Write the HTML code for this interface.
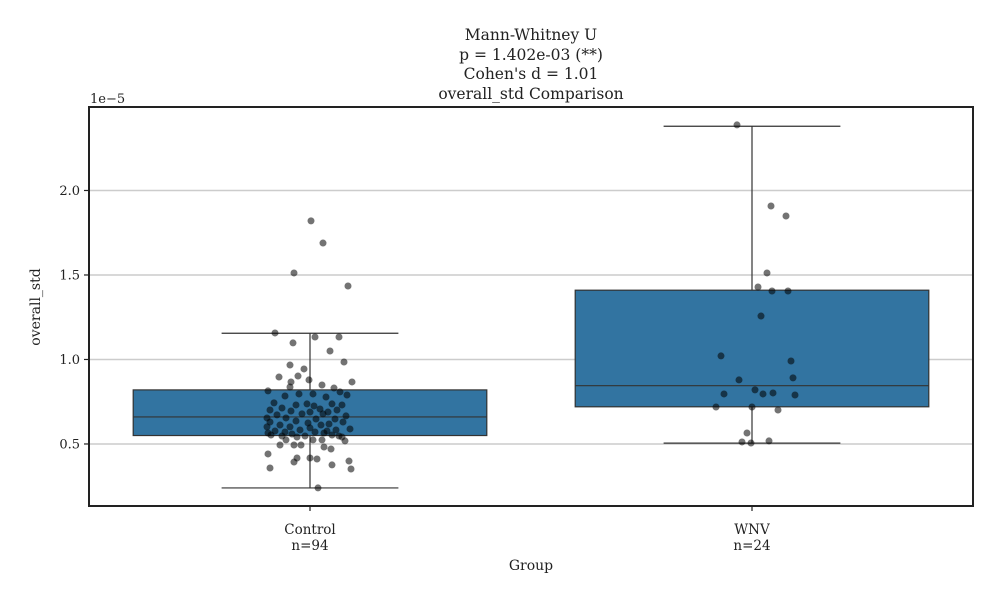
<!DOCTYPE html>
<html><head><meta charset="utf-8"><style>
html,body{margin:0;padding:0;background:#fff;}
svg text{font-family:"DejaVu Serif","Liberation Serif",serif;fill:#222;}
</style></head><body>
<svg id="chart" width="1000" height="600" viewBox="0 0 1000 600" xmlns="http://www.w3.org/2000/svg">
<rect width="1000" height="600" fill="#fff"/>
<g id="title" font-size="15.5" text-anchor="middle">
<text x="531" y="40">Mann-Whitney U</text>
<text x="531" y="60">p = 1.402e-03 (**)</text>
<text x="531" y="79">Cohen's d = 1.01</text>
<text x="531" y="99">overall_std Comparison</text>
</g>
<g id="grid"></g><g id="boxes"></g><g id="points"></g><g id="axes"></g>
<rect x="89" y="107" width="884" height="399" fill="none" stroke="#222" stroke-width="2"/>
<text x="90" y="103" font-size="13">1e−5</text>
<text font-size="14" text-anchor="middle" transform="translate(40,307) rotate(-90)">overall_std</text>
<text x="531" y="570" font-size="14" text-anchor="middle">Group</text>
</svg>
<script>
const categories=["Control","WNV"];
const counts=[94,24];
const yTicks=[0.5,1.0,1.5,2.0];
const whiskerLow=[0.24,0.505];
const q1=[0.55,0.72];
const medians=[0.66,0.845];
const q3=[0.82,1.41];
const whiskerHigh=[1.155,2.38];
const controlValues=[1.820,1.689,1.512,1.435,1.157,1.133,1.133,1.098,1.050,0.985,0.967,0.944,0.896,0.902,0.867,0.879,0.867,0.849,0.837,0.831,0.796,0.796,0.814,0.808,0.784,0.778,0.790,0.743,0.737,0.737,0.731,0.725,0.713,0.707,0.731,0.701,0.695,0.689,0.689,0.701,0.678,0.672,0.678,0.666,0.654,0.654,0.648,0.648,0.636,0.630,0.624,0.630,0.618,0.612,0.612,0.601,0.601,0.595,0.583,0.583,0.577,0.577,0.571,0.571,0.589,0.565,0.565,0.559,0.547,0.547,0.553,0.553,0.547,0.541,0.541,0.524,0.524,0.524,0.518,0.494,0.494,0.494,0.482,0.470,0.441,0.417,0.417,0.411,0.393,0.399,0.358,0.376,0.352,0.240];
const controlJitter=[1,13,-16,38,-35,5,29,-17,20,34,-20,-6,-31,-12,-19,-1,42,12,-20,24,-11,3,-42,30,-25,16,37,-36,-3,22,-14,4,-28,10,32,-40,-19,0,18,27,-8,-33,13,36,-24,-43,6,25,-14,-40,-2,33,19,-30,11,-20,-43,0,-10,26,17,-35,-25,5,40,-42,14,-18,-5,29,22,-39,-28,-13,32,3,12,-24,35,-16,-9,-30,14,21,-42,0,-13,7,-16,39,-40,22,41,8];
const wnvValues=[2.388,1.908,1.849,1.512,1.429,1.405,1.405,1.257,1.021,0.991,0.891,0.879,0.796,0.820,0.796,0.802,0.719,0.719,0.790,0.701,0.565,0.512,0.506,0.518];
const wnvJitter=[-15,19,34,15,6,20,36,9,-31,39,41,-13,-28,3,11,21,-36,0,43,26,-5,-10,-1,17];

const NS="http://www.w3.org/2000/svg";
const X0=89,X1=973,Y0=107,Y1=506,VMIN=0.133,VMAX=2.494;
const yScale=v=>Y1-(v-VMIN)/(VMAX-VMIN)*(Y1-Y0);
const bandW=(X1-X0)/categories.length;
const xScale=i=>X0+bandW*(i+0.5);
function mk(tag,attrs,parent){const e=document.createElementNS(NS,tag);for(const k in attrs)e.setAttribute(k,attrs[k]);parent.appendChild(e);return e;}
const grid=document.getElementById('grid'),axes=document.getElementById('axes'),boxes=document.getElementById('boxes'),pts=document.getElementById('points');
yTicks.forEach(t=>{const y=yScale(t);
 const g=mk('line',{x1:X0,x2:X1,y1:y,y2:y,stroke:'#ccc','stroke-width':1.5},grid);
 
 
 const tk=mk('line',{x1:X0-5,x2:X0,y1:y,y2:y,stroke:'#222','stroke-width':1.2},axes);
 
 
 const tx=mk('text',{x:X0-9,y:y+4.5,'font-size':13,'text-anchor':'end'},axes);
 tx.textContent=t.toFixed(1);
 
 
});
categories.forEach((c,i)=>{const cx=xScale(i),hw=bandW*0.4;
 const g=mk('g',{},boxes);
 
 
 const st={stroke:'#333','stroke-width':1.2};
 mk('line',Object.assign({x1:cx,x2:cx,y1:yScale(whiskerLow[i]),y2:yScale(q1[i])},st),g);
 mk('line',Object.assign({x1:cx,x2:cx,y1:yScale(q3[i]),y2:yScale(whiskerHigh[i])},st),g);
 mk('line',Object.assign({x1:cx-hw/2,x2:cx+hw/2,y1:yScale(whiskerLow[i]),y2:yScale(whiskerLow[i])},st),g);
 mk('line',Object.assign({x1:cx-hw/2,x2:cx+hw/2,y1:yScale(whiskerHigh[i]),y2:yScale(whiskerHigh[i])},st),g);
 mk('rect',Object.assign({x:cx-hw,y:yScale(q3[i]),width:2*hw,height:yScale(q1[i])-yScale(q3[i]),fill:'#3274a1'},st),g);
 mk('line',Object.assign({x1:cx-hw,x2:cx+hw,y1:yScale(medians[i]),y2:yScale(medians[i])},st),g);
 const tk=mk('line',{x1:cx,x2:cx,y1:Y1,y2:Y1+5,stroke:'#222','stroke-width':1.2},axes);
 
 
 const t1=mk('text',{x:cx,y:534,'font-size':13.5,'text-anchor':'middle'},axes);t1.textContent=c;
 
 
 const t2=mk('text',{x:cx,y:550,'font-size':13.5,'text-anchor':'middle'},axes);t2.textContent='n='+counts[i];
 
 
});
[[controlValues,controlJitter,0],[wnvValues,wnvJitter,1]].forEach(([vals,jit,i])=>{
 vals.forEach((v,k)=>{const p=mk('circle',{cx:xScale(i)+jit[k],cy:yScale(v),r:3.5,fill:'#000','fill-opacity':0.55},pts);
  
  
 });
});
</script>
</body></html>
